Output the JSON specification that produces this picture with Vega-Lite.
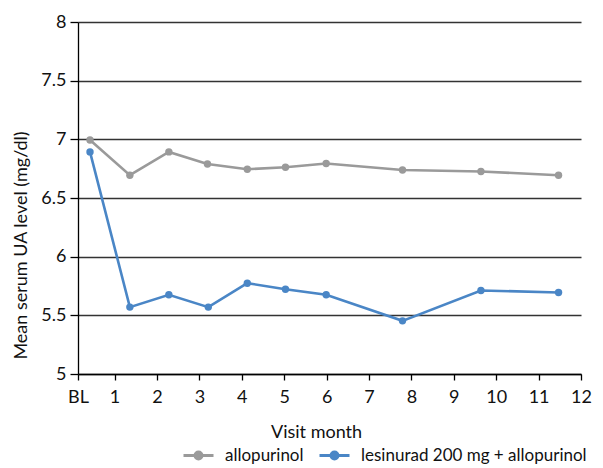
{
  "$schema": "https://vega.github.io/schema/vega-lite/v6.json",
  "width": 503,
  "height": 352,
  "autosize": "none",
  "padding": {"left": 78, "top": 22, "right": 22, "bottom": 94},
  "background": "white",
  "config": {
    "font": "Lato",
    "view": {"stroke": null}
  },
  "data": {
    "values": [
      {"month": 0.42, "value": 6.995, "group": "allopurinol"},
      {"month": 1.36, "value": 6.694, "group": "allopurinol"},
      {"month": 2.28, "value": 6.893, "group": "allopurinol"},
      {"month": 3.19, "value": 6.79, "group": "allopurinol"},
      {"month": 4.13, "value": 6.745, "group": "allopurinol"},
      {"month": 5.03, "value": 6.762, "group": "allopurinol"},
      {"month": 5.99, "value": 6.794, "group": "allopurinol"},
      {"month": 7.79, "value": 6.739, "group": "allopurinol"},
      {"month": 9.64, "value": 6.726, "group": "allopurinol"},
      {"month": 11.47, "value": 6.694, "group": "allopurinol"},
      {"month": 0.42, "value": 6.893, "group": "lesinurad 200 mg + allopurinol"},
      {"month": 1.36, "value": 5.57, "group": "lesinurad 200 mg + allopurinol"},
      {"month": 2.28, "value": 5.675, "group": "lesinurad 200 mg + allopurinol"},
      {"month": 3.21, "value": 5.57, "group": "lesinurad 200 mg + allopurinol"},
      {"month": 4.13, "value": 5.774, "group": "lesinurad 200 mg + allopurinol"},
      {"month": 5.03, "value": 5.723, "group": "lesinurad 200 mg + allopurinol"},
      {"month": 5.99, "value": 5.675, "group": "lesinurad 200 mg + allopurinol"},
      {"month": 7.79, "value": 5.453, "group": "lesinurad 200 mg + allopurinol"},
      {"month": 9.64, "value": 5.712, "group": "lesinurad 200 mg + allopurinol"},
      {"month": 11.47, "value": 5.695, "group": "lesinurad 200 mg + allopurinol"}
    ]
  },
  "encoding": {
    "x": {
      "field": "month",
      "type": "quantitative",
      "scale": {"domain": [0.137, 12], "nice": false, "zero": false},
      "axis": {
        "title": "Visit month",
        "values": [0.137, 1, 2, 3, 4, 5, 6, 7, 8, 9, 10, 11, 12],
        "labelExpr": "datum.value < 0.5 ? 'BL' : datum.label",
        "grid": false,
        "domainColor": "#000",
        "domainWidth": 1.3,
        "tickColor": "#000",
        "tickWidth": 1.3,
        "tickSize": 6,
        "labelPadding": 8,
        "labelDx": -3,
        "labelFontSize": 18,
        "labelColor": "#111",
        "labelFlush": false,
        "labelOverlap": false,
        "titleFontSize": 18,
        "titleFontWeight": "normal",
        "titleColor": "#111",
        "titleX": 238,
        "titleY": 63,
        "titleBaseline": "alphabetic"
      }
    },
    "y": {
      "field": "value",
      "type": "quantitative",
      "scale": {"domain": [5, 8], "nice": false, "zero": false},
      "axis": {
        "title": "Mean serum UA level (mg/dl)",
        "values": [5, 5.5, 6, 6.5, 7, 7.5, 8],
        "format": "~g",
        "grid": true,
        "gridColor": "#333",
        "gridWidth": 1.3,
        "domainColor": "#000",
        "domainWidth": 1.3,
        "tickColor": "#000",
        "tickWidth": 1.3,
        "tickSize": 8,
        "labelPadding": 4,
        "labelFontSize": 18,
        "labelColor": "#111",
        "labelFlush": false,
        "titleFontSize": 18,
        "titleFontWeight": "normal",
        "titleColor": "#111",
        "titleAngle": 270,
        "titleX": -57,
        "titleY": 223,
        "titleBaseline": "middle",
        "titleAlign": "center"
      }
    },
    "color": {
      "field": "group",
      "type": "nominal",
      "scale": {
        "domain": ["allopurinol", "lesinurad 200 mg + allopurinol"],
        "range": ["#9a9a9a", "#4a86c6"]
      },
      "legend": {
        "title": null,
        "orient": "none",
        "direction": "horizontal",
        "legendX": 104,
        "legendY": 417,
        "symbolType": "M-1,0L1,0M0.23,0A0.23,0.23,0,1,1,-0.23,0A0.23,0.23,0,1,1,0.23,0Z",
        "symbolSize": 900,
        "symbolStrokeWidth": 3,
        "labelFontSize": 17,
        "labelColor": "#111",
        "labelOffset": 10,
        "columnPadding": 9,
        "labelLimit": 400,
        "encode": {
          "symbols": {"update": {"fill": {"scale": "color", "field": "value"}}}
        }
      }
    }
  },
  "layer": [
    {
      "mark": {"type": "line", "interpolate": "linear", "strokeWidth": 2.6}
    },
    {
      "mark": {"type": "point", "filled": true, "size": 55, "opacity": 1}
    }
  ]
}
